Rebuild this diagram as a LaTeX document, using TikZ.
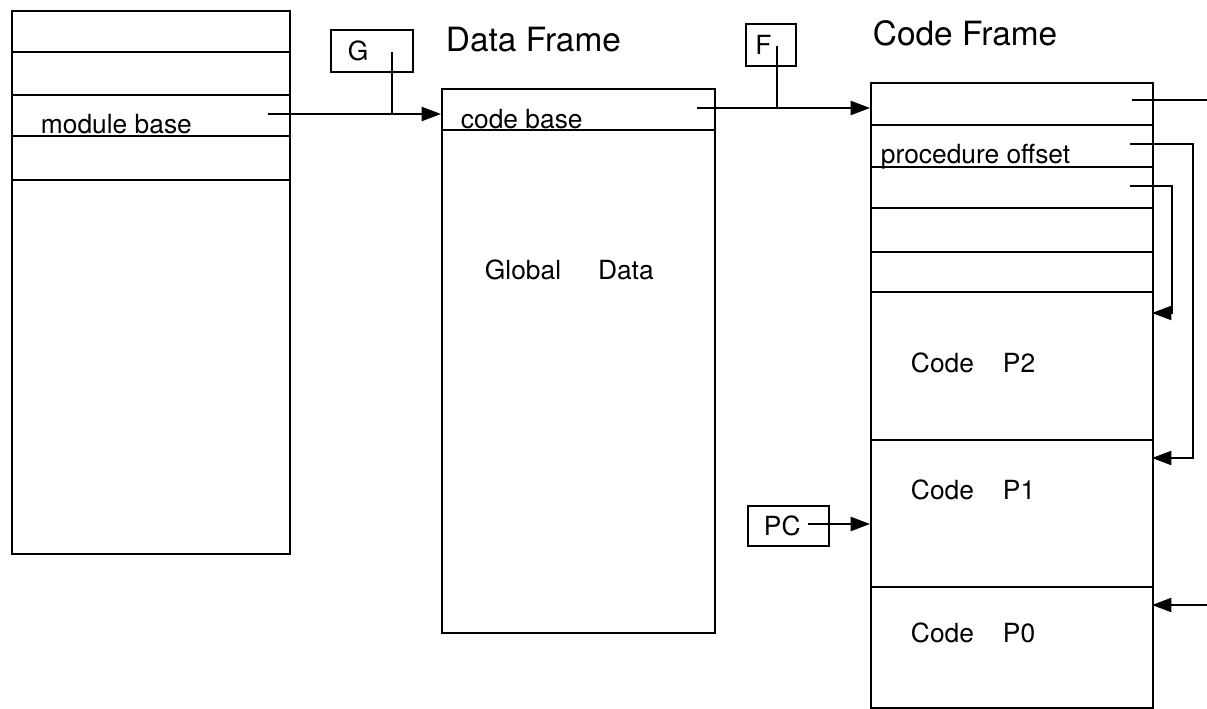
\documentclass[tikz,border=0pt]{standalone}
\usepackage{fontspec}
\setmainfont{TeX Gyre Heros}
\usetikzlibrary{arrows.meta,positioning}

\begin{document}
\begin{tikzpicture}[
		line width=1.1pt,
		>={Triangle[length=11pt,width=8pt]},
		frame/.style={draw, rectangle, inner sep=0pt, anchor=north west},
		reg/.style={draw, rectangle, inner sep=0pt, anchor=north west, font=\fontsize{15}{18}\selectfont},
		slot/.style={anchor=west, inner sep=0pt, font=\fontsize{15}{18}\selectfont},
		title/.style={anchor=west, inner sep=0pt, font=\fontsize{19}{22}\selectfont}
	]
	\useasboundingbox (0,0) rectangle (24.14,-14.18);

	% module frame
	\node[frame, minimum width=5.56cm, minimum height=10.86cm] (modframe) at (0.22,-0.2) {};
	\foreach \y in {-1.04,-1.9,-2.72,-3.6}
		\draw (modframe.west |- 0,\y) -- (modframe.east |- 0,\y);
	\node[slot] (modbase) at (0.8,-2.48) {module base};

	% data frame
	\node[title] (dtitle) at (8.9,-0.79) {Data Frame};
	\node[frame, minimum width=5.46cm, minimum height=10.88cm] (dframe) at (8.82,-1.76) {};
	\draw (dframe.west |- 0,-2.6) -- (dframe.east |- 0,-2.6);
	\node[slot] (codebase) at (9.2,-2.38) {code base};
	\node[slot] (gdata) at (9.68,-5.4) {Global\hspace{1.4em}Data};

	% code frame
	\node[title] (ctitle) at (17.44,-0.66) {Code Frame};
	\node[frame, minimum width=5.64cm, minimum height=12.5cm] (cframe) at (17.4,-1.64) {};
	\foreach \y in {-2.5,-3.34,-4.16,-5.04,-5.84,-8.8,-11.74}
		\draw (cframe.west |- 0,\y) -- (cframe.east |- 0,\y);
	\node[slot] (procoff) at (17.6,-3.14) {procedure offset};
	\node[slot] (ptwo) at (18.2,-7.26) {Code\hspace{1.1em}P2};
	\node[slot] (pone) at (18.2,-9.8) {Code\hspace{1.1em}P1};
	\node[slot] (pzero) at (18.2,-12.66) {Code\hspace{1.1em}P0};

	% registers
	\node[reg, minimum width=1.64cm, minimum height=0.84cm] (greg) at (6.6,-0.58) {G\kern0.55cm};
	\node[reg, minimum width=1cm, minimum height=0.84cm] (freg) at (14.9,-0.46) {F\kern0.3cm};
	\node[reg, minimum width=1.62cm, minimum height=0.8cm] (pcreg) at (14.94,-10.1) {PC\kern0.25cm};

	\coordinate (mbptr) at (5.36,-2.28);
	\coordinate (gtap) at (7.84,-1.04);
	\coordinate (cbptr) at (13.94,-2.16);
	\coordinate (ftap) at (15.54,-0.92);
	\coordinate (pcptr) at (16.16,-10.48);
	\coordinate (seg0) at (22.64,-2.0);
	\coordinate (segout) at (24.14,-2.0);
	\coordinate (poptr) at (22.6,-2.88);
	\coordinate (p1ent) at (23.04,-9.16);
	\coordinate (nxptr) at (22.6,-3.72);
	\coordinate (p2ent) at (23.04,-6.26);
	\coordinate (p0src) at (24.14,-12.1);
	\coordinate (p0ent) at (23.04,-12.1);

	% pointers
	\draw[->] (mbptr) -- (mbptr -| dframe.west);
	\draw (gtap) -- (gtap |- mbptr);
	\draw[->] (cbptr) -- (cbptr -| cframe.west);
	\draw (ftap) -- (ftap |- cbptr);
	\draw[->] (pcptr) -- (pcptr -| cframe.west);
	\draw (seg0) -- (segout);
	\draw[->] (poptr) -- ++(1.26,0) |- (p1ent);
	\draw[->] (nxptr) -- ++(0.84,0) |- (p2ent);
	\draw[->] (p0src) -- (p0ent);
\end{tikzpicture}
\end{document}
